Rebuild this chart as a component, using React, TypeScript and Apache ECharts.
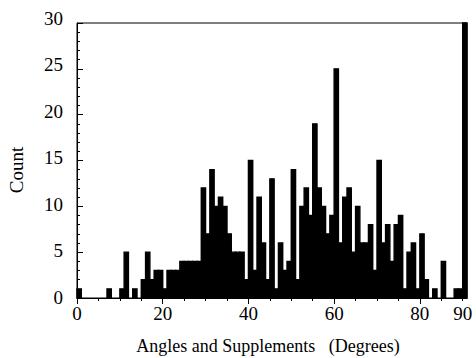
import React, { useEffect, useRef } from "react";
import * as echarts from "echarts";

const degrees = [
  0, 1, 2, 3, 4, 5, 6, 7, 8, 9, 10, 11, 12, 13, 14, 15, 16, 17, 18, 19, 20, 21, 22, 23, 24, 25, 26, 27, 28, 29,
  30, 31, 32, 33, 34, 35, 36, 37, 38, 39, 40, 41, 42, 43, 44, 45, 46, 47, 48, 49, 50, 51, 52, 53, 54, 55, 56, 57, 58, 59,
  60, 61, 62, 63, 64, 65, 66, 67, 68, 69, 70, 71, 72, 73, 74, 75, 76, 77, 78, 79, 80, 81, 82, 83, 84, 85, 86, 87, 88, 89, 90,
];
const counts = [
  1, 0, 0, 0, 0, 0, 0, 1, 0, 0, 1, 5, 0, 1, 0, 2, 5, 2, 3, 3, 1, 3, 3, 3, 4, 4, 4, 4, 4, 12,
  7, 14, 10, 11, 10, 7, 5, 5, 5, 2, 15, 3, 11, 6, 2, 13, 1, 6, 3, 4, 14, 2, 10, 12, 9, 19, 12, 10, 7, 9,
  25, 6, 11, 12, 5, 10, 6, 6, 8, 3, 15, 6, 8, 4, 8, 9, 1, 5, 6, 1, 7, 2, 0, 1, 0, 4, 0, 0, 1, 1, 30,
];
const xTickValues = [0, 5, 10, 15, 20, 25, 30, 35, 40, 45, 50, 55, 60, 65, 70, 75, 80, 85, 90];
const xMajorTicks = [0, 20, 40, 60, 80];
const xTickLabels = [0, 20, 40, 60, 80, 90];
const yTickLabels = [0, 5, 10, 15, 20, 25, 30];
const xTitle = "Angles and Supplements   (Degrees)";
const yTitle = "Count";

const FONT = "'Liberation Serif', 'Times New Roman', serif";

export default function App() {
  const ref = useRef<HTMLDivElement>(null);
  useEffect(() => {
    if (!ref.current) return;
    const chart = echarts.init(ref.current, null, { renderer: "svg" });
    const data = degrees.map((d, i) => [d, counts[i]]);
    chart.setOption({
      animation: false,
      backgroundColor: "#fff",
      grid: [
        {
          left: 77,
          top: 23,
          right: 9,
          bottom: 60,
          show: true,
          borderColor: "#000",
          borderWidth: 1,
          containLabel: false,
        },
        {
          left: 77,
          top: 18,
          right: 9,
          bottom: 61,
          show: false,
          containLabel: false,
        },
      ],
      xAxis: [
        {
          type: "value",
          gridIndex: 0,
          min: 0,
          max: 91,
          position: "bottom",
          axisLine: { show: true, lineStyle: { color: "#000", width: 1 } },
          axisTick: { show: true, customValues: xTickValues, length: 3, lineStyle: { color: "#000" } },
          axisLabel: {
            customValues: xTickLabels,
            color: "#000",
            fontFamily: FONT,
            fontSize: 19,
            margin: 6,
          },
          splitLine: { show: false },
        },
        {
          type: "value",
          gridIndex: 0,
          min: 0,
          max: 91,
          position: "bottom",
          axisLine: { show: false },
          axisTick: { show: true, customValues: xMajorTicks, length: 6, lineStyle: { color: "#000" } },
          axisLabel: { show: false },
          splitLine: { show: false },
        },
        {
          type: "value",
          gridIndex: 1,
          min: 0,
          max: 91,
          show: false,
        },
      ],
      yAxis: [
        {
          type: "value",
          gridIndex: 0,
          min: 0,
          max: 30,
          interval: 5,
          axisLine: { show: true, lineStyle: { color: "#000", width: 1 } },
          axisTick: { show: true, inside: true, length: 6, lineStyle: { color: "#000" } },
          minorTick: { show: true, splitNumber: 5, length: 3, lineStyle: { color: "#000" } },
          axisLabel: { show: false },
          splitLine: { show: false },
        },
        {
          type: "value",
          gridIndex: 1,
          min: 0,
          max: 30,
          axisLine: { show: false },
          axisTick: { show: false },
          axisLabel: {
            customValues: yTickLabels,
            color: "#000",
            fontFamily: FONT,
            fontSize: 19,
            margin: 14,
          },
          splitLine: { show: false },
        },
      ],
      graphic: [
        {
          type: "text",
          x: 16,
          y: 170,
          rotation: Math.PI / 2,
          style: {
            text: yTitle,
            fill: "#000",
            font: `19px ${FONT}`,
            align: "center",
            verticalAlign: "middle",
          },
        },
        {
          type: "text",
          x: 268,
          y: 346,
          style: {
            text: xTitle,
            fill: "#000",
            font: `18px ${FONT}`,
            align: "center",
            verticalAlign: "middle",
          },
        },
      ],
      series: [
        {
          type: "custom",
          xAxisIndex: 0,
          yAxisIndex: 0,
          data,
          renderItem: (params: any, api: any) => {
            const d = api.value(0);
            const c = api.value(1);
            if (!c) return { type: "group", children: [] };
            const p0 = api.coord([d, c]);
            const p1 = api.coord([d + 1, 0]);
            return {
              type: "rect",
              shape: { x: p0[0], y: p0[1], width: p1[0] - p0[0], height: p1[1] - p0[1] },
              style: { fill: "#000", stroke: "#000", lineWidth: 1.4 },
            };
          },
        },
      ],
    });
    return () => chart.dispose();
  }, []);
  return (
    <div
      ref={ref}
      style={{ position: "fixed", left: 0, top: 0, width: 476, height: 358, background: "#fff" }}
    />
  );
}
